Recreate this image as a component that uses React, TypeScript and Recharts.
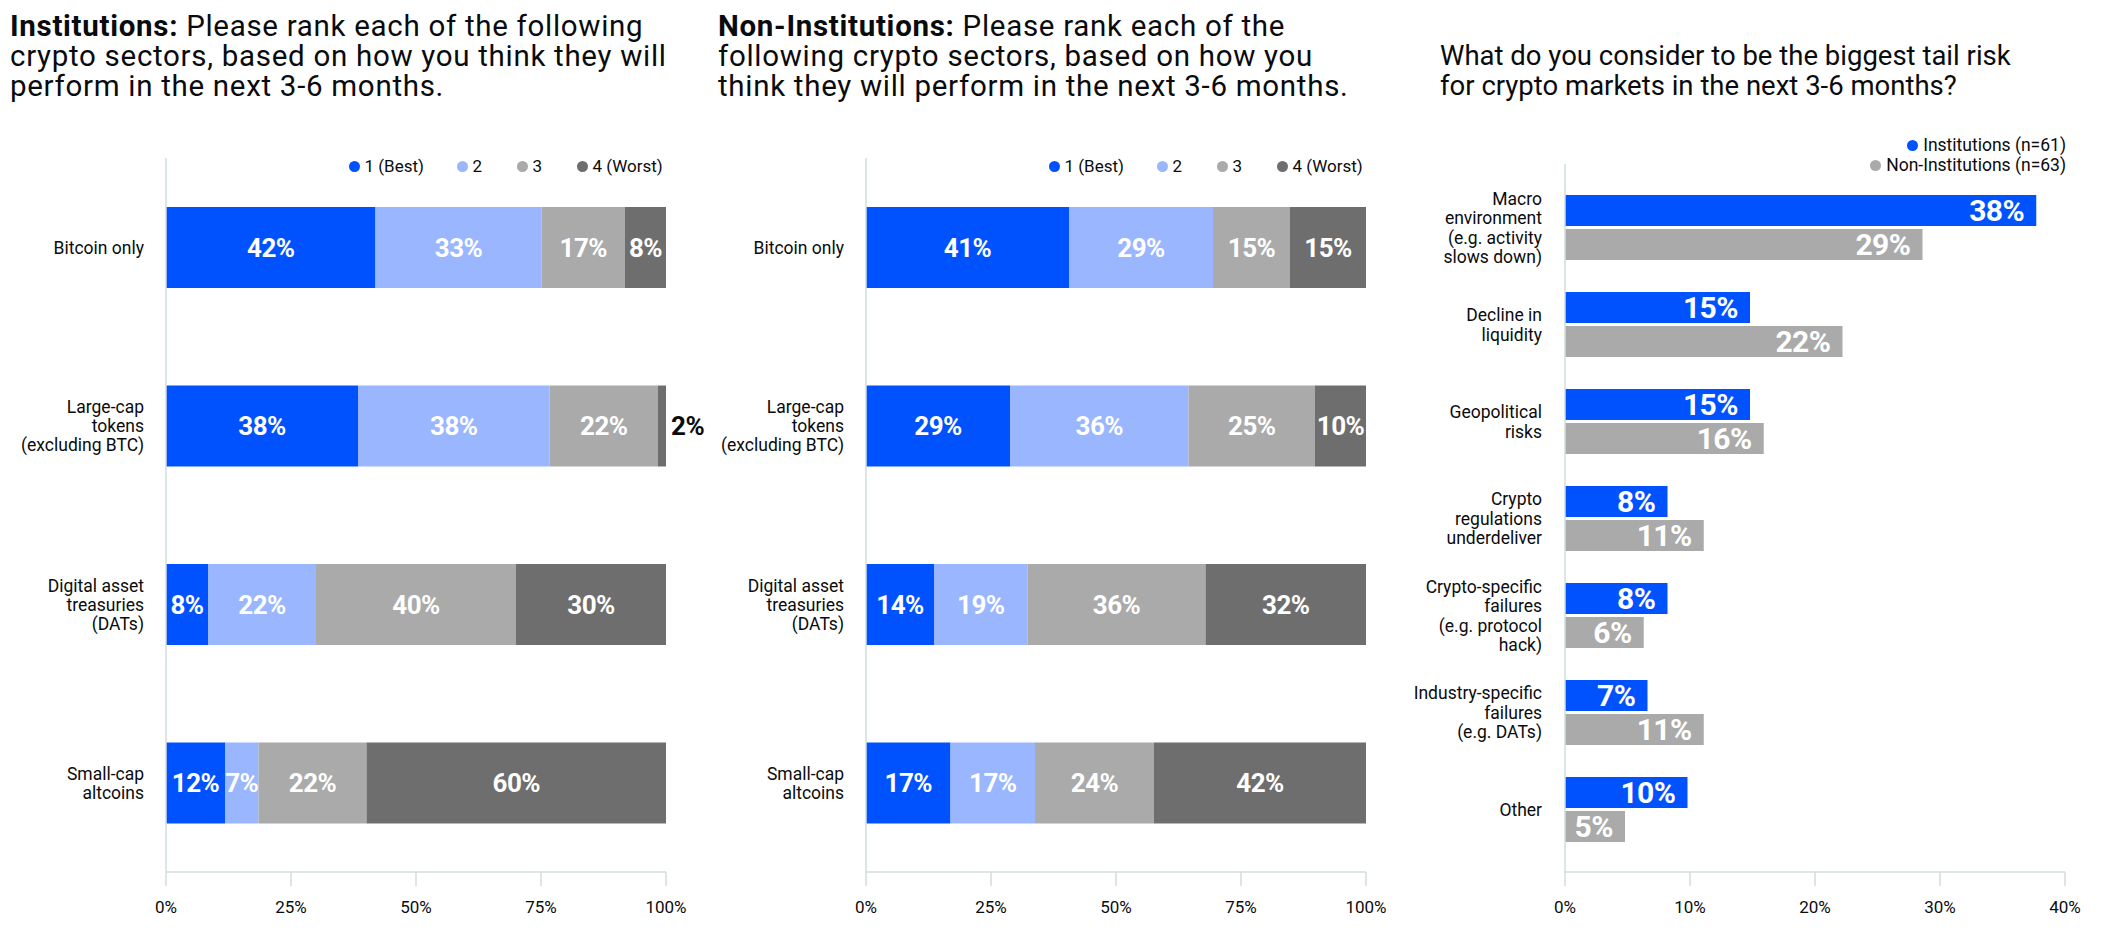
import React from "react";
import { BarChart, Bar, XAxis, YAxis, LabelList } from "recharts";

const FONT = "Roboto, 'Noto Sans', sans-serif";
const INK = "#0A0B0D";
const AXIS = "#D3DCDC";

// ranking question
const SECTORS = [
  "Bitcoin only",
  "Large-cap\ntokens\n(excluding BTC)",
  "Digital asset\ntreasuries\n(DATs)",
  "Small-cap\naltcoins",
];
const RANK_KEYS = ["r1", "r2", "r3", "r4"];
const RANK_NAMES = ["1 (Best)", "2", "3", "4 (Worst)"];
const RANK_COLORS = ["#0052FF", "#99B6FF", "#AAAAAA", "#6E6E6E"];
const PCT_TICKS = [0, 25, 50, 75, 100];

const INST_RANK_1 = [41.9, 38.4, 8.4, 11.8];
const INST_RANK_2 = [33.2, 38.3, 21.6, 6.7];
const INST_RANK_3 = [16.7, 21.7, 40.0, 21.6];
const INST_RANK_4 = [8.2, 1.6, 30.0, 59.9];

const NONINST_RANK_1 = [40.6, 28.8, 13.6, 16.9];
const NONINST_RANK_2 = [28.8, 35.7, 18.7, 16.9];
const NONINST_RANK_3 = [15.4, 25.3, 35.6, 23.8];
const NONINST_RANK_4 = [15.2, 10.2, 32.1, 42.4];

// tail risk question
const RISKS = [
  "Macro\nenvironment\n(e.g. activity\nslows down)",
  "Decline in\nliquidity",
  "Geopolitical\nrisks",
  "Crypto\nregulations\nunderdeliver",
  "Crypto-specific\nfailures\n(e.g. protocol\nhack)",
  "Industry-specific\nfailures\n(e.g. DATs)",
  "Other",
];
const INST_RISK = [37.7, 14.8, 14.8, 8.2, 8.2, 6.6, 9.8];
const NONINST_RISK = [28.6, 22.2, 15.9, 11.1, 6.3, 11.1, 4.8];
const RISK_TICKS = [0, 10, 20, 30, 40];
const RISK_SERIES = ["Institutions (n=61)", "Non-Institutions (n=63)"];
const RISK_COLORS = ["#0052FF", "#AAAAAA"];

const buildRanks = (cols: number[][]) =>
  SECTORS.map((name, i) => ({
    name,
    r1: cols[0][i],
    r2: cols[1][i],
    r3: cols[2][i],
    r4: cols[3][i],
  }));

const instData = buildRanks([INST_RANK_1, INST_RANK_2, INST_RANK_3, INST_RANK_4]);
const nonInstData = buildRanks([
  NONINST_RANK_1,
  NONINST_RANK_2,
  NONINST_RANK_3,
  NONINST_RANK_4,
]);
const riskData = RISKS.map((name, i) => ({
  name,
  inst: INST_RISK[i],
  nonInst: NONINST_RISK[i],
}));

function MultiLineTick(props: any) {
  const { x, y, payload, lineHeight } = props;
  const lines = String(payload.value).split("\n");
  const start = -((lines.length - 1) * lineHeight) / 2;
  return (
    <text
      x={x}
      y={y}
      textAnchor="end"
      fill={INK}
      fontSize={17.5}
      fontFamily={FONT}
    >
      {lines.map((line, i) => (
        <tspan key={i} x={x} y={y + start + i * lineHeight} dy="0.36em">
          {line}
        </tspan>
      ))}
    </text>
  );
}

const rankLabel = (props: any) => {
  const { x, y, width, height, value } = props;
  const inside = Number(width) > 24;
  return (
    <text
      x={inside ? Number(x) + Number(width) / 2 : Number(x) + Number(width) + 5}
      y={Number(y) + Number(height) / 2}
      dy="0.36em"
      textAnchor={inside ? "middle" : "start"}
      fill={inside ? "#FFFFFF" : INK}
      fontSize={26}
      fontWeight={700}
      fontFamily={FONT}
      letterSpacing={-0.5}
    >
      {`${Math.round(Number(value))}%`}
    </text>
  );
};

const riskLabel = (props: any) => {
  const { x, y, width, height, value } = props;
  return (
    <text
      x={Number(x) + Number(width) - 12}
      y={Number(y) + Number(height) / 2}
      dy="0.36em"
      textAnchor="end"
      fill="#FFFFFF"
      fontSize={30}
      fontWeight={700}
      fontFamily={FONT}
      letterSpacing={-0.5}
    >
      {`${Math.round(Number(value))}%`}
    </text>
  );
};

const Dot = ({ color }: { color: string }) => (
  <span
    style={{
      display: "inline-block",
      width: 11,
      height: 11,
      borderRadius: "50%",
      background: color,
      marginRight: 5,
      flex: "none",
    }}
  />
);

// dot centres, measured from the plot's left edge
const LEGEND_OFFSETS = [188, 296, 356, 416];

function RankLegend({ plotLeft }: { plotLeft: number }) {
  return (
    <>
      {RANK_NAMES.map((n, i) => (
        <span
          key={n}
          style={{
            position: "absolute",
            top: 155,
            left: plotLeft + LEGEND_OFFSETS[i] - 5.5,
            display: "flex",
            alignItems: "center",
            fontSize: 17,
            lineHeight: "22px",
            color: INK,
            fontFamily: FONT,
            whiteSpace: "nowrap",
          }}
        >
          <Dot color={RANK_COLORS[i]} />
          {n}
        </span>
      ))}
    </>
  );
}

function RankChart({ data, left }: { data: any[]; left: number }) {
  return (
    <div style={{ position: "absolute", left, top: 0 }}>
      <BarChart
        width={720}
        height={948}
        data={data}
        layout="vertical"
        margin={{ top: 158, right: 54, bottom: 16, left: 0 }}
      >
        <XAxis
          type="number"
          domain={[0, 100]}
          ticks={PCT_TICKS}
          tickFormatter={(v) => `${v}%`}
          height={60}
          axisLine={{ stroke: AXIS, strokeWidth: 1.5 }}
          tickLine={{ stroke: AXIS, strokeWidth: 1.5 }}
          tickSize={14}
          tickMargin={15}
          tick={{ fill: INK, fontSize: 17, fontFamily: FONT }}
        />
        <YAxis
          type="category"
          dataKey="name"
          width={166}
          axisLine={{ stroke: AXIS, strokeWidth: 1.5 }}
          tickLine={false}
          tickSize={0}
          tickMargin={22}
          interval={0}
          tick={(p: any) => <MultiLineTick {...p} lineHeight={19} />}
        />
        {RANK_KEYS.map((k, i) => (
          <Bar
            key={k}
            dataKey={k}
            name={RANK_NAMES[i]}
            stackId="rank"
            fill={RANK_COLORS[i]}
            barSize={81}
            isAnimationActive={false}
          >
            <LabelList dataKey={k} content={rankLabel} />
          </Bar>
        ))}
      </BarChart>
    </div>
  );
}

const titleStyle: React.CSSProperties = {
  position: "absolute",
  fontSize: 29.5,
  lineHeight: "30px",
  letterSpacing: 0.7,
  color: INK,
  fontFamily: FONT,
  whiteSpace: "nowrap",
};

export default function App() {
  return (
    <div
      style={{
        position: "absolute",
        left: 0,
        top: 0,
        width: 2122,
        height: 948,
        background: "#FFFFFF",
        fontFamily: FONT,
        overflow: "hidden",
      }}
    >
      <RankChart data={instData} left={0} />
      <RankChart data={nonInstData} left={700} />

      <div style={{ position: "absolute", left: 1400, top: 0 }}>
        <BarChart
          width={722}
          height={948}
          data={riskData}
          layout="vertical"
          barGap={3}
          margin={{ top: 164, right: 57, bottom: 16, left: 0 }}
        >
          <XAxis
            type="number"
            domain={[0, 40]}
            ticks={RISK_TICKS}
            tickFormatter={(v) => `${v}%`}
            height={60}
            axisLine={{ stroke: AXIS, strokeWidth: 1.5 }}
            tickLine={{ stroke: AXIS, strokeWidth: 1.5 }}
            tickSize={14}
            tickMargin={15}
            tick={{ fill: INK, fontSize: 17, fontFamily: FONT }}
          />
          <YAxis
            type="category"
            dataKey="name"
            width={165}
            padding={{ top: 15, bottom: 14 }}
            axisLine={{ stroke: AXIS, strokeWidth: 1.5 }}
            tickLine={false}
            tickSize={0}
            tickMargin={23}
            interval={0}
            tick={(p: any) => <MultiLineTick {...p} lineHeight={19.5} />}
          />
          <Bar
            dataKey="inst"
            name={RISK_SERIES[0]}
            fill={RISK_COLORS[0]}
            barSize={31}
            isAnimationActive={false}
          >
            <LabelList dataKey="inst" content={riskLabel} />
          </Bar>
          <Bar
            dataKey="nonInst"
            name={RISK_SERIES[1]}
            fill={RISK_COLORS[1]}
            barSize={31}
            isAnimationActive={false}
          >
            <LabelList dataKey="nonInst" content={riskLabel} />
          </Bar>
        </BarChart>
      </div>

      <div style={{ ...titleStyle, left: 10, top: 11 }}>
        <b>Institutions:</b> Please rank each of the following
        <br />
        crypto sectors, based on how you think they will
        <br />
        perform in the next 3-6 months.
      </div>
      <div style={{ ...titleStyle, left: 718, top: 11 }}>
        <b>Non-Institutions:</b> Please rank each of the
        <br />
        following crypto sectors, based on how you
        <br />
        think they will perform in the next 3-6 months.
      </div>
      <div
        style={{
          ...titleStyle,
          fontSize: 27.5,
          letterSpacing: 0,
          left: 1440,
          top: 40.5,
        }}
      >
        What do you consider to be the biggest tail risk
        <br />
        for crypto markets in the next 3-6 months?
      </div>

      <RankLegend plotLeft={166} />
      <RankLegend plotLeft={866} />

      <div
        style={{
          position: "absolute",
          top: 135,
          right: 2122 - 2066,
          display: "flex",
          flexDirection: "column",
          alignItems: "flex-end",
          fontSize: 17.5,
          lineHeight: "20px",
          color: INK,
          fontFamily: FONT,
        }}
      >
        {RISK_SERIES.map((n, i) => (
          <span key={n} style={{ display: "flex", alignItems: "center" }}>
            <Dot color={RISK_COLORS[i]} />
            {n}
          </span>
        ))}
      </div>
    </div>
  );
}
